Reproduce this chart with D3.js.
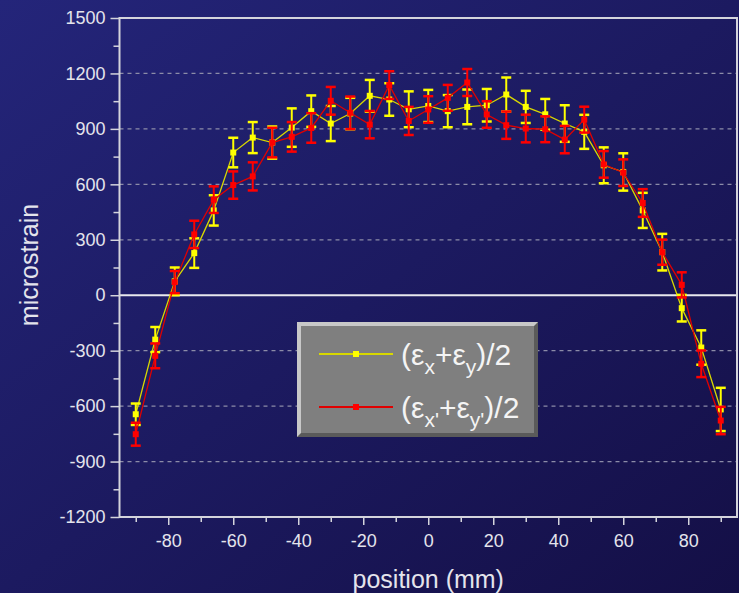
<!DOCTYPE html>
<html>
<head>
<meta charset="utf-8">
<script src="https://cdn.jsdelivr.net/npm/d3@7"></script>
<style>
  body { margin: 0; background: #1a1760; }
  svg { display: block; font-family: "Liberation Sans", Arial, sans-serif; }
</style>
</head>
<body>
<script>
// chart data
var positions = [-90, -84, -78, -72, -66, -60, -54, -48, -42, -36, -30, -24, -18, -12, -6, 0,
                 6, 12, 18, 24, 30, 36, 42, 48, 54, 60, 66, 72, 78, 84, 90];

// (ex+ey)/2 , yellow
var avgXY = [-644, -240, 75, 228, 459, 772, 853, 826, 907, 996, 929, 983, 1079, 1059, 1006, 1024,
             996, 1019, 1028, 1086, 1019, 979, 929, 884, 703, 667, 459, 233, -70, -283, -618];
var errXY = [58, 68, 75, 80, 82, 80, 84, 87, 104, 85, 95, 85, 86, 88, 97, 87,
             87, 94, 88, 92, 87, 83, 99, 92, 97, 101, 95, 99, 72, 93, 117];

// (ex'+ey')/2 , red
var avgXYp = [-752, -328, 71, 329, 517, 596, 643, 826, 857, 905, 1052, 987, 923, 1137, 943, 1005,
              1068, 1151, 978, 920, 902, 898, 842, 950, 708, 663, 499, 233, 56, -371, -678];
var errXYp = [62, 67, 60, 74, 72, 74, 76, 80, 80, 80, 75, 88, 74, 75, 76, 72,
              70, 73, 72, 74, 75, 70, 74, 70, 72, 72, 75, 68, 68, 72, 74];

var xTicks = [-80, -60, -40, -20, 0, 20, 40, 60, 80];
var xMinor = [-90, -70, -50, -30, -10, 10, 30, 50, 70, 90];
var yTicks = [-1200, -900, -600, -300, 0, 300, 600, 900, 1200, 1500];
var yMinor = [-1050, -750, -450, -150, 150, 450, 750, 1050, 1350];
var gridVals = [-900, -600, -300, 300, 600, 900, 1200];

window.onload = function(){

    var w = 739, h = 593;
    var left = 119.5, right = 737, top = 18, bottom = 517;

    var svg = d3.select("body")
       .append("svg")
       .attr("width", w)
       .attr("height", h);

    var defs = svg.append("defs");
    var grad = defs.append("linearGradient")
       .attr("id", "bg")
       .attr("x1", "0").attr("y1", "0")
       .attr("x2", "1").attr("y2", "1");
    grad.append("stop").attr("offset", "0%").attr("stop-color", "#24257a");
    grad.append("stop").attr("offset", "100%").attr("stop-color", "#140f46");

    svg.append("rect")
       .attr("width", w).attr("height", h)
       .style("fill", "url(#bg)");

    var x = d3.scaleLinear().domain([-95, 95]).range([left, right]);
    var y = d3.scaleLinear().domain([-1200, 1500]).range([bottom, top]);

    var axisCol = "#d4d4dc";
    var plainNum = function(d){ return String(d); }; // keep ascii hyphen for minus

    //dashed grid
    svg.append("g").selectAll("line")
       .data(gridVals)
       .enter().append("line")
       .attr("x1", left).attr("x2", right)
       .attr("y1", function(d){ return y(d); })
       .attr("y2", function(d){ return y(d); })
       .style("stroke", "#8c8ca8")
       .style("stroke-width", 1.2)
       .style("stroke-dasharray", "4,4");

    //zero line
    svg.append("line")
       .attr("x1", left).attr("x2", right)
       .attr("y1", y(0)).attr("y2", y(0))
       .style("stroke", "#e8e8ee")
       .style("stroke-width", 2);

    //axes
    svg.append("g")
       .attr("transform", "translate(0," + bottom + ")")
       .call(d3.axisBottom(x).tickValues(xTicks).tickSize(8).tickPadding(9).tickFormat(plainNum));
    svg.append("g")
       .attr("transform", "translate(0," + bottom + ")")
       .call(d3.axisBottom(x).tickValues(xMinor).tickSize(5).tickFormat(""));

    svg.append("g")
       .attr("transform", "translate(" + left + ",0)")
       .call(d3.axisLeft(y).tickValues(yTicks).tickSize(9).tickPadding(5).tickFormat(plainNum));
    svg.append("g")
       .attr("transform", "translate(" + left + ",0)")
       .call(d3.axisLeft(y).tickValues(yMinor).tickSize(6).tickFormat(""));

    svg.selectAll(".domain").remove();
    svg.selectAll(".tick line").style("stroke", axisCol).style("stroke-width", 1.5);
    svg.selectAll(".tick text")
       .style("fill", "#e4e4ec")
       .style("font-size", "18px")
       .style("font-family", "Liberation Sans, Arial, sans-serif");

    //frame
    svg.append("rect")
       .attr("x", left).attr("y", top)
       .attr("width", right - left).attr("height", bottom - top)
       .style("fill", "none")
       .style("stroke", axisCol)
       .style("stroke-width", 2);

    //axis titles
    svg.append("text")
       .attr("x", x(0)).attr("y", 588)
       .attr("text-anchor", "middle")
       .style("fill", "#e4e4ec")
       .style("font-size", "25px")
       .text("position (mm)");

    svg.append("text")
       .attr("transform", "translate(38,265) rotate(-90)")
       .attr("text-anchor", "middle")
       .style("fill", "#e4e4ec")
       .style("font-size", "25px")
       .text("microstrain");

    //series
    function drawSeries(vals, errs, lineCol, markCol){
        var g = svg.append("g");
        var pts = positions.map(function(p, i){ return [p, vals[i], errs[i]]; });

        g.append("path")
           .datum(pts)
           .attr("d", d3.line().x(function(d){ return x(d[0]); }).y(function(d){ return y(d[1]); }))
           .style("fill", "none")
           .style("stroke", lineCol)
           .style("stroke-width", 1.3);

        var eb = g.selectAll(".eb").data(pts).enter().append("g");
        eb.append("line")
           .attr("x1", function(d){ return x(d[0]); })
           .attr("x2", function(d){ return x(d[0]); })
           .attr("y1", function(d){ return y(d[1] + d[2]); })
           .attr("y2", function(d){ return y(d[1] - d[2]); })
           .style("stroke", markCol).style("stroke-width", 2);
        [1, -1].forEach(function(s){
            eb.append("line")
               .attr("x1", function(d){ return x(d[0]) - 5; })
               .attr("x2", function(d){ return x(d[0]) + 5; })
               .attr("y1", function(d){ return y(d[1] + s * d[2]); })
               .attr("y2", function(d){ return y(d[1] + s * d[2]); })
               .style("stroke", markCol).style("stroke-width", 2.5);
        });

        g.selectAll(".mk").data(pts).enter().append("rect")
           .attr("x", function(d){ return x(d[0]) - 3; })
           .attr("y", function(d){ return y(d[1]) - 3; })
           .attr("width", 6).attr("height", 6)
           .style("fill", markCol);
    }

    drawSeries(avgXY, errXY, "#d8d800", "#ffff00");
    drawSeries(avgXYp, errXYp, "#e00000", "#ff0000");

    //legend box with bevel
    var lg = svg.append("g").attr("transform", "translate(297,322)");
    var bw = 241, bh = 115;
    lg.append("rect").attr("width", bw).attr("height", bh).style("fill", "#5a5a5a");
    lg.append("polygon")
       .attr("points", "0,0 " + bw + ",0 " + (bw - 4) + ",4 4,4 4," + (bh - 4) + " 0," + bh)
       .style("fill", "#c8c8c8");
    lg.append("rect").attr("x", 4).attr("y", 4).attr("width", bw - 8).attr("height", bh - 8)
       .style("fill", "#7f7f7f");

    function legendRow(yy, lineCol, markCol, subs){
        lg.append("line")
           .attr("x1", 22).attr("x2", 96).attr("y1", yy).attr("y2", yy)
           .style("stroke", lineCol).style("stroke-width", 2);
        lg.append("rect")
           .attr("x", 56).attr("y", yy - 3).attr("width", 6).attr("height", 6)
           .style("fill", markCol);
        var t = lg.append("text")
           .attr("x", 104).attr("y", yy + 11)
           .style("fill", "#f4f4f4")
           .style("font-size", "30px");
        t.append("tspan").text("(\u03b5");
        t.append("tspan").attr("dy", 9).style("font-size", "21px").text(subs[0]);
        t.append("tspan").attr("dy", -9).text("+\u03b5");
        t.append("tspan").attr("dy", 9).style("font-size", "21px").text(subs[1]);
        t.append("tspan").attr("dy", -9).text(")/2");
    }
    legendRow(32, "#d8d800", "#ffff00", ["x", "y"]);
    legendRow(85, "#e00000", "#ff0000", ["x'", "y'"]);
};
</script>
</body>
</html>
